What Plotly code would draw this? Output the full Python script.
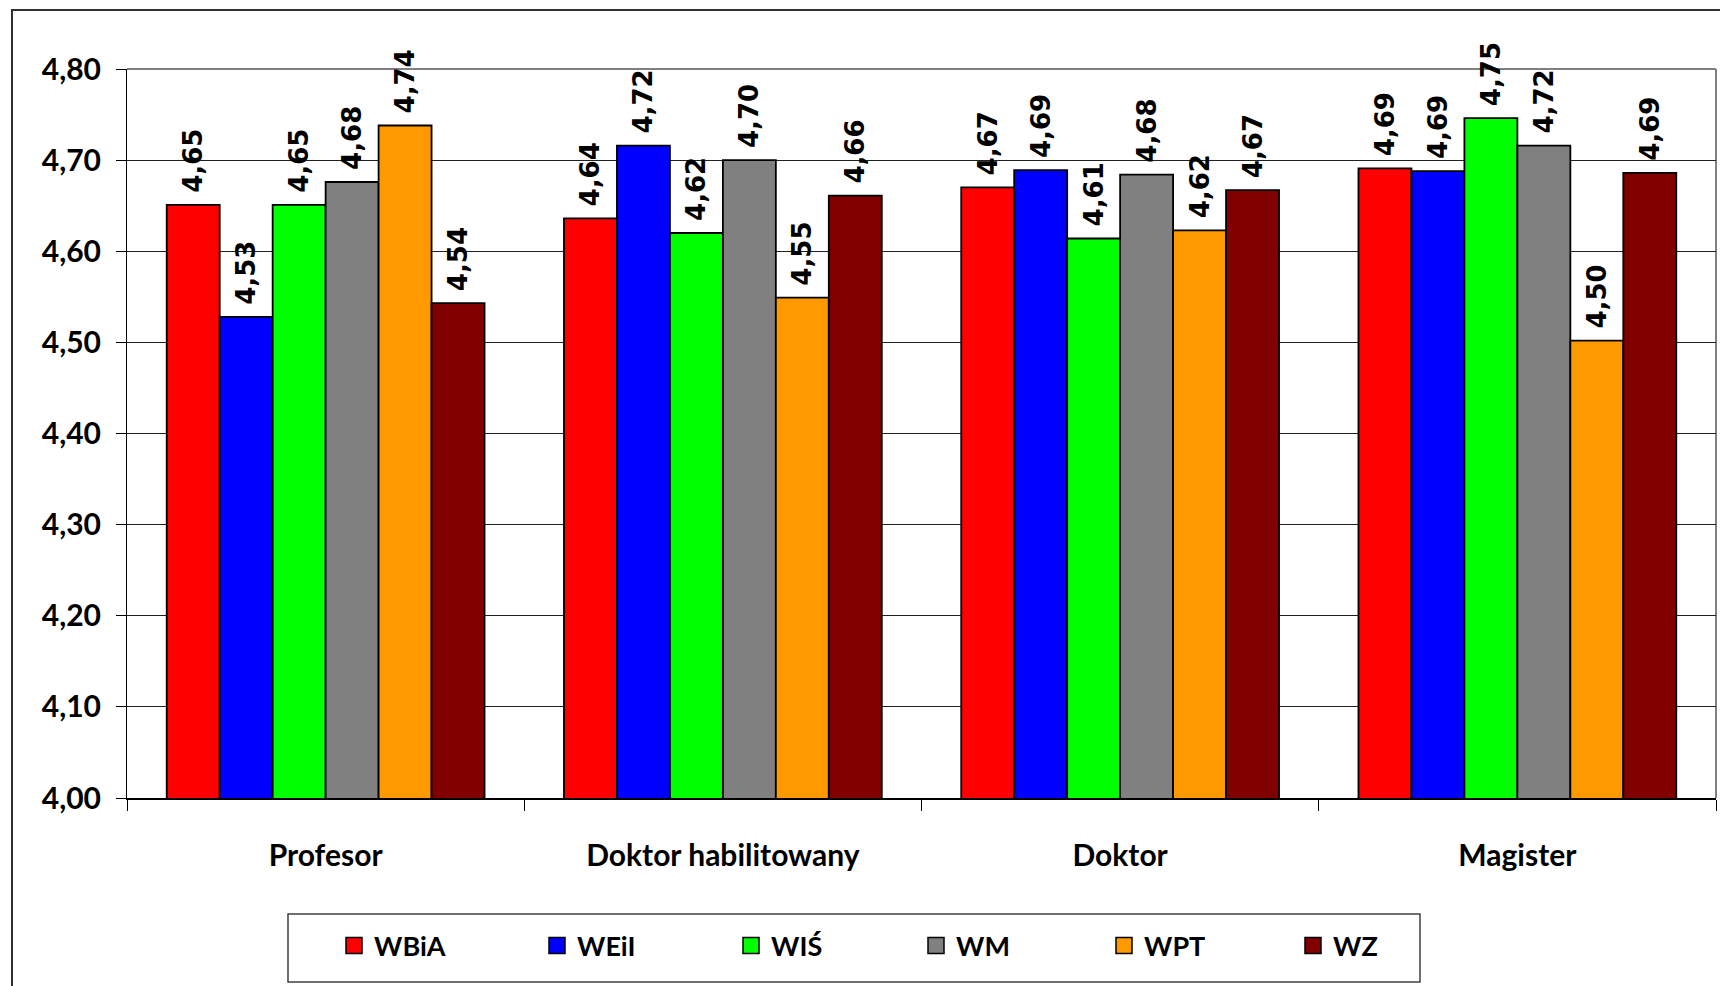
import plotly.graph_objects as go

categories = ["Profesor", "Doktor habilitowany", "Doktor", "Magister"]
series_names = ["WBiA", "WEiI", "WIŚ", "WM", "WPT", "WZ"]
series_colors = ["#FF0000", "#0000FF", "#00FF00", "#808080", "#FF9900", "#800000"]

wbia = [4.651, 4.636, 4.670, 4.691]
weii = [4.528, 4.716, 4.689, 4.688]
wis = [4.651, 4.620, 4.614, 4.746]
wm = [4.676, 4.700, 4.684, 4.716]
wpt = [4.738, 4.549, 4.623, 4.502]
wz = [4.543, 4.661, 4.667, 4.686]

series_values = [wbia, weii, wis, wm, wpt, wz]
y_ticks = [4.0, 4.1, 4.2, 4.3, 4.4, 4.5, 4.6, 4.7, 4.8]

W, H = 1720, 986
L, R, T, B = 127, 4, 69, 188
PW, PH = W - L - R, H - T - B

legend_widths = [158, 149, 140, 143, 144, 100]


def px_x(X):
    return (X - L) / PW


def px_y(Y):
    return (H - B - Y) / PH


fig = go.Figure()
for name, vals, col in zip(series_names, series_values, series_colors):
    fig.add_trace(go.Bar(
        x=categories, y=vals, name=name,
        marker=dict(color=col, line=dict(color="black", width=1.8)),
        text=[" " + f"{v:.2f}".replace(".", ",") for v in vals],
        textposition="outside", textangle=-90, constraintext="none",
        cliponaxis=False,
        textfont=dict(family="DejaVu Sans", size=26, color="black", weight="bold"),
        showlegend=False, hoverinfo="skip",
    ))

for name, col, lw in zip(series_names, series_colors, legend_widths):
    fig.add_trace(go.Scatter(
        x=[None], y=[None], mode="markers", name=name,
        marker=dict(symbol="square", size=16, color=col,
                    line=dict(color="black", width=1.5)),
        showlegend=True, hoverinfo="skip", legendwidth=lw,
    ))

fig.update_layout(
    width=W, height=H,
    margin=dict(l=L, r=R, t=T, b=B, pad=0),
    paper_bgcolor="white", plot_bgcolor="white",
    barmode="group", bargap=0.2, bargroupgap=0,
    separators=", ",
    font=dict(family="Lato", size=28, color="black", weight="bold"),
    legend=dict(
        orientation="h", x=px_x(334), xanchor="left",
        y=px_y(946), yanchor="middle",
        bgcolor="rgba(0,0,0,0)", borderwidth=0,
        font=dict(family="Lato", size=27, color="black", weight="bold"),
        itemclick=False, itemdoubleclick=False,
    ),
    xaxis=dict(
        showline=True, linecolor="black", linewidth=2,
        ticks="outside", tickson="boundaries", ticklen=11, tickcolor="black", tickwidth=1,
        tickfont=dict(family="Lato", size=30, color="black", weight="bold"),
        ticklabelstandoff=30, showgrid=False,
    ),
    yaxis=dict(
        range=[4.0, 4.8], tickvals=y_ticks, tickformat=".2f",
        showline=True, linecolor="black", linewidth=1,
        ticks="outside", ticklen=10, tickcolor="black", tickwidth=1,
        tickfont=dict(family="Lato", size=30, color="black", weight="bold"),
        ticklabelstandoff=9,
        showgrid=True, gridcolor="#202020", gridwidth=1, zeroline=False,
    ),
    shapes=[
        dict(type="line", xref="paper", yref="paper", x0=0, x1=1, y0=1, y1=1,
             line=dict(color="#808080", width=2), layer="between"),
        dict(type="line", xref="paper", yref="paper", x0=1, x1=1, y0=0, y1=1,
             line=dict(color="#808080", width=2), layer="between"),
        dict(type="rect", xref="paper", yref="paper",
             x0=px_x(288), x1=px_x(1420), y0=px_y(982), y1=px_y(914),
             line=dict(color="#404040", width=1.5), fillcolor="rgba(0,0,0,0)"),
        dict(type="rect", xref="paper", yref="paper",
             x0=px_x(12), x1=px_x(1760), y0=px_y(1020), y1=px_y(10),
             line=dict(color="#303030", width=2), fillcolor="rgba(0,0,0,0)"),
    ],
)

fig.write_html("out.html", config={"displayModeBar": False},
               post_script="document.body.style.margin='0px';")
